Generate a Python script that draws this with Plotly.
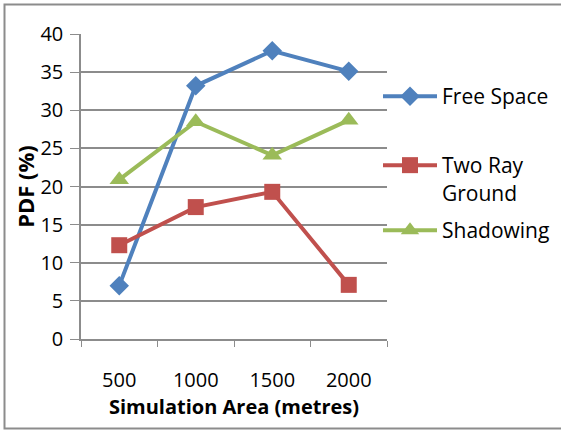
import plotly.graph_objects as go

# Simulation area categories and PDF results (%)
areas = ["500", "1000", "1500", "2000"]
free_space = [7.0, 33.2, 37.8, 35.1]
two_ray_ground = [12.3, 17.3, 19.3, 7.1]
shadowing = [20.9, 28.5, 24.1, 28.7]

FONT = "'Open Sans', sans-serif"

W, H = 561, 430
L, R, T, B = 81, 174, 34, 91
pw, ph = W - L - R, H - T - B


def px_x(p):
    return (p - L) / pw


def px_y(p):
    return (H - B - p) / ph


fig = go.Figure()

# each series gets its own legend box so the entries can be spaced freely
series = [
    ("Free Space", free_space, "#4F81BD", "diamond", 15, "legend", 76),
    ("Two Ray<br>Ground", two_ray_ground, "#C0504D", "square", 16, "legend2", 145),
    ("Shadowing", shadowing, "#9BBB59", "triangle-up", 17, "legend3", 210),
]
legend_boxes = {}
for name, vals, color, sym, size, leg, top in series:
    fig.add_trace(go.Scatter(
        x=areas, y=vals, name=name, mode="lines+markers",
        line=dict(color=color, width=4),
        marker=dict(color=color, symbol=sym, size=size),
        legend=leg,
    ))
    legend_boxes[leg] = dict(
        x=px_x(378), xanchor="left", y=px_y(top), yanchor="top",
        font=dict(family=FONT, size=21, color="black"),
        valign="top", itemwidth=54, bgcolor="rgba(0,0,0,0)",
    )

# outer chart border
fig.add_shape(type="rect", xref="paper", yref="paper",
              x0=px_x(4.5), x1=px_x(570), y0=px_y(428.5), y1=px_y(4.5),
              line=dict(color="#8C8C8C", width=2), layer="below")

fig.update_layout(
    width=W, height=H,
    margin=dict(l=L, r=R, t=T, b=B, autoexpand=False),
    paper_bgcolor="white", plot_bgcolor="white",
    font=dict(family=FONT, size=20, color="black"),
    showlegend=True,
    **legend_boxes,
    xaxis=dict(
        type="category", range=[-0.5, 3.5], tickson="boundaries",
        ticks="outside", ticklen=6,
        tickcolor="#8C8C8C", showline=True, linecolor="#8C8C8C", linewidth=1.5,
        showgrid=False, tickfont=dict(size=20), ticklabelstandoff=22,
        title=dict(text="<b>Simulation Area (metres)</b>", font=dict(size=20), standoff=2),
    ),
    yaxis=dict(
        range=[0, 40], dtick=5, ticks="outside", ticklen=9,
        tickcolor="#8C8C8C", showline=True, linecolor="#8C8C8C", linewidth=1.5,
        showgrid=True, gridcolor="#8C8C8C", gridwidth=1.5, zeroline=False,
        tickfont=dict(size=20), ticklabelstandoff=3,
        title=dict(text="<b>PDF (%)</b>", font=dict(size=22), standoff=0),
    ),
)

fig.write_html("out.html")
